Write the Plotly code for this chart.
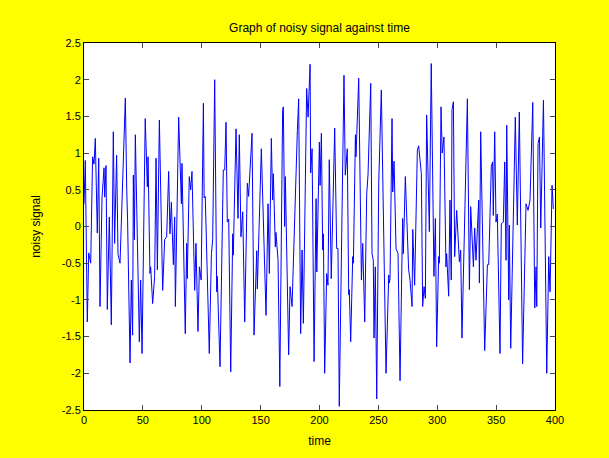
import plotly.graph_objects as go

# vertices (time, value)
time = [0, 1.1, 2.8, 4, 5.7, 7.3, 8.5, 9.6, 11.3, 12.5, 13.6, 15.3, 17, 17.6, 18.7, 19.8,
        21.5, 23.2, 24.9, 26, 27.7, 28.9, 30.6, 35.1, 36.3, 37, 39.1, 40.2, 41.3, 41.9,
        42.8, 43.6, 47, 48.1, 49.3, 52, 53.8, 54.4, 56, 56.6, 58.3, 60, 61.2, 62.3, 64,
        66.8, 68.5, 70.2, 71.9, 73, 74.2, 75.9, 77, 77.6, 80.4, 82.7, 83.2, 86, 87.2, 87.7,
        89.4, 90.6, 91.7, 94, 95.1, 96.8, 98, 99.5, 101.4, 102, 103, 106.4, 108.2, 109.3,
        111, 112.7, 113.2, 115.5, 118.3, 119.5, 120.6, 121.7, 122.9, 124.6, 126.3, 126.8,
        129.1, 130.8, 131.9, 133.3, 134.8, 136.5, 138.7, 139.8, 142.7, 144.4, 146.7, 147.2,
        150.6, 154.6, 156.3, 157.4, 159.1, 160.2, 160.8, 162.5, 163, 164.8, 166.3, 168.7,
        169.3, 170.4, 171, 173.8, 175, 176.7, 180.6, 181.2, 182.3, 184, 185.2, 186.3, 189.1,
        190.3, 192, 192.5, 193.7, 195.4, 197.1, 197.7, 199.9, 200.5, 201.6, 202.7, 203.3,
        204.4, 206.1, 207.2, 208.3, 210, 212.9, 214.6, 215.7, 216.8, 220.8, 221.9, 223.6,
        224.8, 225.3, 226.5, 228.2, 228.8, 230.5, 231, 233.3, 235.6, 236.7, 238.4, 240.1,
        241.2, 242.9, 243.5, 244.6, 245.7, 246.3, 247.4, 248.6, 249.7, 250.3, 252.5, 256.5,
        258.8, 259.3, 259.9, 261.6, 262.2, 263.3, 265, 266.7, 268.4, 270.6, 271.2, 272.9,
        275.7, 276.9, 278.6, 279.2, 280.8, 283.1, 284.2, 285.9, 286.5, 287.6, 288.8, 289.9,
        291, 293.3, 294.9, 297.2, 298.4, 299.5, 301.2, 301.8, 303.2, 304.2, 305.7, 307.4,
        308, 309.7, 310.8, 311.9, 312.5, 313.7, 314.8, 316.5, 318.8, 319.9, 321, 325.6,
        327.3, 328.4, 330.7, 331.8, 332.9, 335.2, 335.8, 336.9, 340.3, 342.6, 343.7, 345.9,
        347, 347.6, 348.8, 349.9, 351, 353.3, 354.4, 356.1, 357.3, 358.4, 359, 360.7, 361.2,
        362.4, 366.3, 368, 369.7, 372.5, 375.4, 377.1, 378.8, 381.1, 382.8, 383.9, 384.5,
        385.6, 386.8, 387.9, 390.2, 393, 394.7, 395.8, 397.5, 398.6]

noisy = [0.3, 0.9, -1.3, -0.36, -0.5, 0.95, 0.85, 1.2, -0.09, 0.93, -1.09, 0.39, 0.8, 0.4,
         0.83, -1.13, 0.13, -1.34, 1.29, -0.23, 0.97, -0.38, -0.5, 1.75, 0.5, 0.1, -1.86,
         -0.73, -1.48, 0.7, -0.18, 1.25, -1.57, -0.73, -1.73, 1.47, 0.54, 0.95, -0.64, -0.55,
         -1.05, -0.68, 0.93, -0.59, 1.45, -0.87, -0.18, -0.14, 0.75, -0.1, 0.33, -0.52, 0.13,
         -1.09, 1.49, 0.31, 0.86, -1.46, -0.23, -0.71, 0.68, 0.5, 0.75, -0.87, -0.23, -1.43,
         -0.55, -0.73, 1.68, 0.39, 0.41, -1.73, -0.37, -0.18, 2.0, -0.89, -0.68, -1.91, 0.77,
         0.77, 1.42, 0.06, 0.1, -1.98, -0.1, -0.39, 1.33, 0.11, 1.25, -0.14, 0.2, -1.3, 0.59,
         0.41, 1.27, -1.48, -0.33, -0.85, 1.06, -1.21, 0.31, -0.64, 1.2, 0.36, 0.72, -0.28,
         -0.08, -0.46, -2.18, 1.59, 1.63, 0.0, 0.68, -1.75, -0.82, -1.09, 1.27, 1.31, 1.74,
         -1.46, -0.32, -1.32, 1.88, 1.49, 2.21, 0.73, 1.06, -1.84, 0.38, -0.62, 1.15, 0.56,
         1.27, -0.32, -0.1, -2.0, -0.64, -0.8, 0.91, -0.71, 1.34, -0.3, -0.3, -2.45, 2.06,
         0.7, 1.06, -0.93, -0.86, -1.57, -0.41, -0.5, 1.25, 0.95, 2.02, -0.73, -0.23, -1.3,
         0.45, 0.7, 1.88, 1.95, -0.37, -0.46, -1.52, -0.55, -2.35, 0.56, 0.58, 1.86, -2.0,
         -0.66, -0.77, -0.71, 1.47, 0.47, 0.89, -0.3, -0.37, -2.1, 0.11, -0.37, 0.68, -0.59,
         -0.73, -1.09, -0.04, -0.8, 1.04, 1.1, 0.75, 0.72, -1.09, -0.82, -0.98, 1.52, -0.07,
         2.22, -0.68, 0.11, -1.64, -0.41, -0.5, 1.63, 1.0, 1.22, -0.55, -0.37, -0.95, 0.36,
         -0.73, 1.59, 1.7, -0.41, 0.22, -0.48, -0.32, -1.52, 1.74, -0.86, 0.27, -0.55, -0.02,
         -0.46, 0.36, -0.77, 1.29, -1.69, -0.52, -0.52, 0.82, 0.88, 0.15, 1.29, 0.06, 0.17,
         -1.73, 0.04, 0.06, 0.88, -0.46, 1.38, -1.0, 0.02, -1.66, 1.49, 0.02, 1.56, -1.87,
         0.31, 0.22, 0.36, 1.69, -1.11, -0.55, -1.09, 1.13, 1.22, -0.02, 1.72, -2.0, -0.41,
         -0.89, 0.56, 0.24]

xticks = [0, 50, 100, 150, 200, 250, 300, 350, 400]
yticks = [-2.5, -2, -1.5, -1, -0.5, 0, 0.5, 1, 1.5, 2, 2.5]
yticklabels = ["-2.5", "-2", "-1.5", "-1", "-0.5", "0", "0.5", "1", "1.5", "2", "2.5"]

fig = go.Figure()
fig.add_trace(go.Scatter(x=time, y=noisy, mode="lines",
                         line=dict(color="#0000ff", width=1)))

fnt = dict(family="Liberation Sans, Arial", size=11, color="black")
fig.update_layout(
    width=609, height=458,
    margin=dict(l=84, r=54, t=43, b=48),
    paper_bgcolor="#ffff00",
    plot_bgcolor="white",
    font=fnt,
    showlegend=False,
    title=dict(text="Graph of noisy signal against time", x=0.5, xanchor="center",
               xref="paper", y=1 - 28 / 458, yanchor="middle", font=dict(size=12)),
)
fig.update_xaxes(range=[0, 400], tickvals=xticks, ticks="inside", ticklen=5,
                 showline=True, linecolor="black", linewidth=1, mirror="ticks",
                 showgrid=False, zeroline=False, automargin=False,
                 title=dict(text="time", standoff=11, font=dict(size=12)))
fig.update_yaxes(range=[-2.5, 2.5], tickvals=yticks, ticktext=yticklabels,
                 ticks="inside", ticklen=5,
                 showline=True, linecolor="black", linewidth=1, mirror="ticks",
                 showgrid=False, zeroline=False, automargin=False,
                 title=dict(text="noisy signal", standoff=18, font=dict(size=12)))

# page has a default 8px body margin; drop it so the yellow figure fills the window
fig.write_html("out.html", config={"displayModeBar": False},
               post_script="document.body.style.margin='0';"
                           "document.body.style.background='#ffff00';")
